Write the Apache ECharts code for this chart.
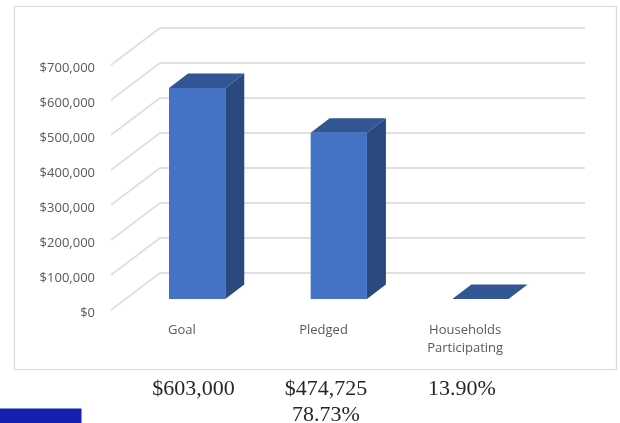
<!DOCTYPE html>
<html><head><meta charset="utf-8">
<style>html,body{margin:0;padding:0;background:#fff;overflow:hidden}#c{width:620px;height:423px}</style>
<script src="https://cdn.jsdelivr.net/npm/echarts@6/dist/echarts.min.js"></script>
</head><body><div id="c"></div>
<script>
const categories = ['Goal', 'Pledged', 'Households\nParticipating'];
const values = [603000, 474725, 13.9];
const yTicks = [0, 100000, 200000, 300000, 400000, 500000, 600000, 700000];
const captions = ['$603,000', '$474,725\n78.73%', '13.90%'];

const GRID = {left: 111, top: 65, width: 425, height: 245};
const WALL = {dx: 49, dy: 37};
const BAR = {ratio: 0.397, gapX: 15.3, gapY: 11, dx: 19, dy: 14.5};
const COL = {front: '#4472c4', side: '#2a4a7f', top: '#325694', grid: '#e0e0e0', frame: '#d9d9d9', text: '#595959'};

const chart = echarts.init(document.getElementById('c'), null, {renderer: 'canvas'});
const poly = (pts, fill) => ({type: 'polygon', shape: {points: pts}, style: {fill: fill}});
const captionFont = '22px "Liberation Serif"';

chart.setOption({
  animation: false,
  backgroundColor: '#fff',
  grid: GRID,
  xAxis: {
    type: 'category', data: categories,
    axisLine: {show: false}, axisTick: {show: false},
    axisLabel: {color: COL.text, fontFamily: 'Open Sans', fontSize: 13, lineHeight: 18, margin: 11, interval: 0}
  },
  yAxis: {
    type: 'value', min: 0, max: 700000, interval: 100000,
    axisLine: {show: false}, axisTick: {show: false}, splitLine: {show: false},
    axisLabel: {color: COL.text, fontFamily: 'Open Sans', fontSize: 13, margin: 16, verticalAlign: 'top', lineHeight: 6,
      formatter: v => '$' + v.toLocaleString('en-US')}
  },
  graphic: [
    {type: 'rect', silent: true, z: -1, shape: {x: 14.5, y: 6.5, width: 602, height: 363},
      style: {fill: '#fff', stroke: COL.frame, lineWidth: 1.2}},
    {type: 'rect', silent: true, shape: {x: 0, y: 408.5, width: 81.5, height: 15}, style: {fill: '#1320b2'}},
    {type: 'text', x: 193.5, y: 376, style: {text: captions[0], fill: '#262626', font: captionFont, align: 'center', lineHeight: 26, verticalAlign: 'top'}},
    {type: 'text', x: 326, y: 376, style: {text: captions[1], fill: '#262626', font: captionFont, align: 'center', lineHeight: 26, verticalAlign: 'top'}},
    {type: 'text', x: 462, y: 376, style: {text: captions[2], fill: '#262626', font: captionFont, align: 'center', lineHeight: 26, verticalAlign: 'top'}}
  ],
  series: [
    {
      type: 'custom', data: yTicks.map(v => [0, v]), z: 1, silent: true,
      encode: {x: 0, y: 1},
      renderItem: (params, api) => {
        const cs = params.coordSys;
        const y = api.coord([0, api.value(1)])[1];
        return {type: 'polyline', shape: {points: [
          [cs.x, y], [cs.x + WALL.dx, y - WALL.dy], [cs.x + cs.width + WALL.dx, y - WALL.dy]
        ]}, style: {stroke: COL.grid, lineWidth: 1.8, fill: null}};
      }
    },
    {
      type: 'custom', data: values.map((v, i) => [i, v]), z: 2, silent: true,
      encode: {x: 0, y: 1},
      renderItem: (params, api) => {
        const p = api.coord([api.value(0), api.value(1)]);
        const base = api.coord([api.value(0), 0]);
        const w = api.size([1, 0])[0] * BAR.ratio;
        const xl = p[0] + BAR.gapX - w / 2, xr = xl + w;
        const yt = p[1] - BAR.gapY, yb = base[1] - BAR.gapY;
        const d = BAR;
        return {type: 'group', children: [
          poly([[xr, yt], [xr + d.dx, yt - d.dy], [xr + d.dx, yb - d.dy], [xr, yb]], COL.side),
          poly([[xl, yt], [xl + d.dx, yt - d.dy], [xr + d.dx, yt - d.dy], [xr, yt]], COL.top),
          {type: 'rect', shape: {x: xl, y: yt, width: w, height: yb - yt}, style: {fill: COL.front}}
        ]};
      }
    }
  ]
});
</script></body></html>
